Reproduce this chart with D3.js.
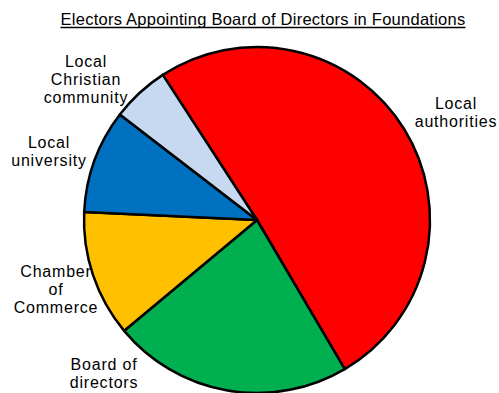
<!DOCTYPE html>
<html>
<head>
<meta charset="utf-8">
<script src="https://cdn.jsdelivr.net/npm/d3@7"></script>
<style>
  html, body { margin: 0; padding: 0; background: #fff; }
  svg { display: block; }
  text { font-family: "Liberation Sans", Arial, sans-serif; fill: #000; }
</style>
</head>
<body>
<script>
// Electors appointing the board of directors (share of foundations, %)
const categories = ["Local authorities", "Board of directors", "Chamber of Commerce", "Local university", "Local Christian community"];
const values = [50.7, 22.4, 11.8, 9.7, 5.4];
const colors = ["#FF0000", "#00B050", "#FFC000", "#0070C0", "#C6D9F1"];
// Label text split into lines, with anchor position (px) for each label
const labelLines = [["Local", "authorities"], ["Board of", "directors"], ["Chamber", "of", "Commerce"], ["Local", "university"], ["Local", "Christian", "community"]];
const labelPos = [[456, 109], [104, 370], [56, 277], [49, 148], [86, 67]];
const title = "Electors Appointing Board of Directors in Foundations";

const W = 499, H = 393;
const cx = 257, cy = 220, R = 173;
const startDeg = -33;

const svg = d3.select("body").append("svg").attr("width", W).attr("height", H);

// Title, underlined
const t = svg.append("text")
  .attr("x", 263).attr("y", 25)
  .attr("text-anchor", "middle")
  .style("font-size", "16.5px")
  .style("letter-spacing", "0.25px")
  .text(title);
const bb = t.node().getBBox();
svg.append("line")
  .attr("x1", bb.x).attr("x2", bb.x + bb.width)
  .attr("y1", 27.5).attr("y2", 27.5)
  .attr("stroke", "#000").attr("stroke-width", 1.3);

// Category labels (drawn beneath the pie)
const labels = svg.append("g");
labelLines.forEach((lines, i) => {
  const tx = labels.append("text")
    .attr("text-anchor", "middle")
    .style("font-size", "16px")
    .style("letter-spacing", "0.8px");
  lines.forEach((ln, j) => {
    tx.append("tspan")
      .attr("x", labelPos[i][0])
      .attr("y", labelPos[i][1] + j * 18)
      .text(ln);
  });
});

// Pie
const pie = d3.pie().sort(null).value(d => d)
  .startAngle(startDeg * Math.PI / 180)
  .endAngle((startDeg + 360) * Math.PI / 180);
const arc = d3.arc().innerRadius(0).outerRadius(R);

svg.append("g")
  .attr("transform", `translate(${cx},${cy})`)
  .selectAll("path")
  .data(pie(values))
  .join("path")
  .attr("d", arc)
  .attr("fill", (d, i) => colors[i])
  .attr("stroke", "#000")
  .attr("stroke-width", 2.5)
  .attr("stroke-linejoin", "round");
</script>
</body>
</html>
